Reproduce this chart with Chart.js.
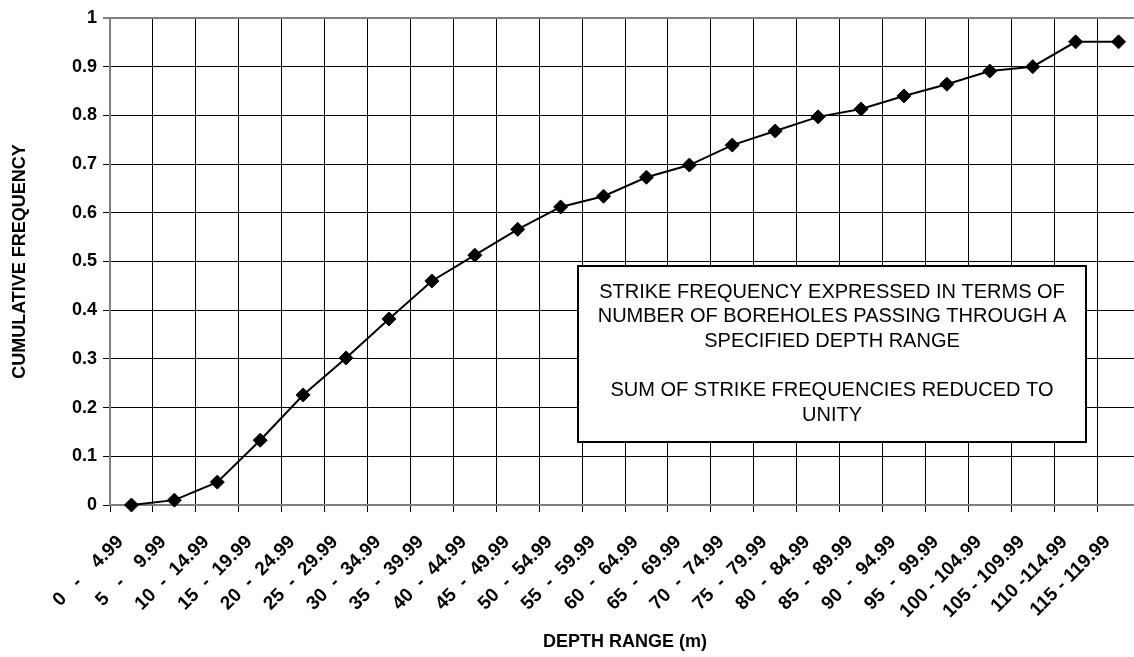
<!DOCTYPE html>
<html>
<head>
<meta charset="utf-8">
<script src="https://cdn.jsdelivr.net/npm/chart.js@4.4.1/dist/chart.umd.min.js"></script>
<style>
    html, body { margin: 0; padding: 0; background: #fff; }
    #wrap { width: 1134px; height: 657px; overflow: hidden; position: relative; }
</style>
</head>
<body>
<div id="wrap"><canvas id="chart" width="1148" height="657"></canvas></div>
<script>
const depthRanges = [
    "0   -    4.99", "5   -    9.99", "10  -  14.99", "15  -  19.99", "20  -  24.99", "25  -  29.99",
    "30  -  34.99", "35  -  39.99", "40  -  44.99", "45  -  49.99", "50  -  54.99", "55  -  59.99",
    "60  -  64.99", "65  -  69.99", "70  -  74.99", "75  -  79.99", "80  -  84.99", "85  -  89.99",
    "90  -  94.99", "95  -  99.99", "100 - 104.99", "105 - 109.99", "110 -114.99", "115 - 119.99"
];
const cumulativeFrequency = [
    0, 0.01, 0.047, 0.133, 0.226, 0.302, 0.382, 0.46, 0.513, 0.566, 0.612, 0.634,
    0.673, 0.698, 0.739, 0.768, 0.797, 0.813, 0.84, 0.864, 0.891, 0.9, 0.951, 0.951
];
const yMin = 0;
const yMax = 1;
const yStep = 0.1;
const noteLines = [
    "STRIKE FREQUENCY EXPRESSED IN TERMS OF",
    "NUMBER OF BOREHOLES PASSING THROUGH A",
    "SPECIFIED DEPTH RANGE",
    "",
    "SUM OF STRIKE FREQUENCIES REDUCED TO",
    "UNITY"
];

const FONT = "'Liberation Sans', Arial, sans-serif";

// text box drawn in the middle-right of the plot
const noteBox = {
    id: 'noteBox',
    afterDatasetsDraw(chart) {
        const { ctx, scales: { x, y } } = chart;
        const left = Math.round(x.getPixelForValue(10.4));
        const right = Math.round(x.getPixelForValue(22.25));
        const top = Math.round(y.getPixelForValue(0.49));
        const bottom = Math.round(y.getPixelForValue(0.13));
        ctx.save();
        ctx.fillStyle = '#fff';
        ctx.fillRect(left, top, right - left, bottom - top);
        ctx.strokeStyle = '#000';
        ctx.lineWidth = 2;
        ctx.strokeRect(left, top, right - left, bottom - top);
        ctx.fillStyle = '#000';
        ctx.font = '20px ' + FONT;
        ctx.textAlign = 'center';
        ctx.textBaseline = 'middle';
        const cx = (left + right) / 2;
        noteLines.forEach((line, i) => {
            ctx.fillText(line, cx, top + 26 + i * 24.6);
        });
        ctx.restore();
    }
};

new Chart(document.getElementById('chart'), {
    type: 'line',
    data: {
        labels: depthRanges,
        datasets: [{
            data: cumulativeFrequency,
            borderColor: '#000',
            borderWidth: 2,
            backgroundColor: '#000',
            pointStyle: 'rectRot',
            pointRadius: 7,
            pointBorderWidth: 1,
            pointBorderColor: '#000',
            pointBackgroundColor: '#000',
            tension: 0,
            fill: false,
            clip: false
        }]
    },
    options: {
        responsive: false,
        animation: false,
        layout: { padding: { top: 18, right: 0, left: 0, bottom: 0 } },
        plugins: {
            legend: { display: false },
            tooltip: { enabled: false }
        },
        scales: {
            x: {
                offset: true,
                grid: {
                    offset: true,
                    color: '#000',
                    lineWidth: 1,
                    tickLength: 7
                },
                border: { color: '#808080', width: 2 },
                ticks: {
                    autoSkip: false,
                    maxRotation: 45,
                    minRotation: 45,
                    padding: 19,
                    labelOffset: -11,
                    color: '#000',
                    font: { family: FONT, size: 19, weight: 'bold' }
                },
                title: {
                    display: true,
                    text: 'DEPTH RANGE (m)',
                    color: '#000',
                    font: { family: FONT, size: 18, weight: 'bold' },
                    padding: { top: 0, bottom: 4 }
                },
                afterFit(scale) {
                    scale.height = 152;
                    scale.paddingRight = 0;
                }
            },
            y: {
                min: yMin,
                max: yMax,
                grid: {
                    color: c => c.tick && c.tick.value === yMax ? '#808080' : '#000',
                    lineWidth: c => c.tick && c.tick.value === yMax ? 2 : 1,
                    tickLength: 7
                },
                border: { color: '#808080', width: 2 },
                ticks: {
                    stepSize: yStep,
                    padding: 6,
                    color: '#000',
                    font: { family: FONT, size: 18, weight: 'bold' },
                    callback: v => String(+v.toFixed(1))
                },
                title: {
                    display: true,
                    text: 'CUMULATIVE FREQUENCY',
                    color: '#000',
                    font: { family: FONT, size: 18, weight: 'bold' },
                    padding: { top: 9, bottom: 0 }
                },
                afterFit(scale) { scale.width = 110; }
            }
        }
    },
    plugins: [noteBox]
});
</script>
</body>
</html>
